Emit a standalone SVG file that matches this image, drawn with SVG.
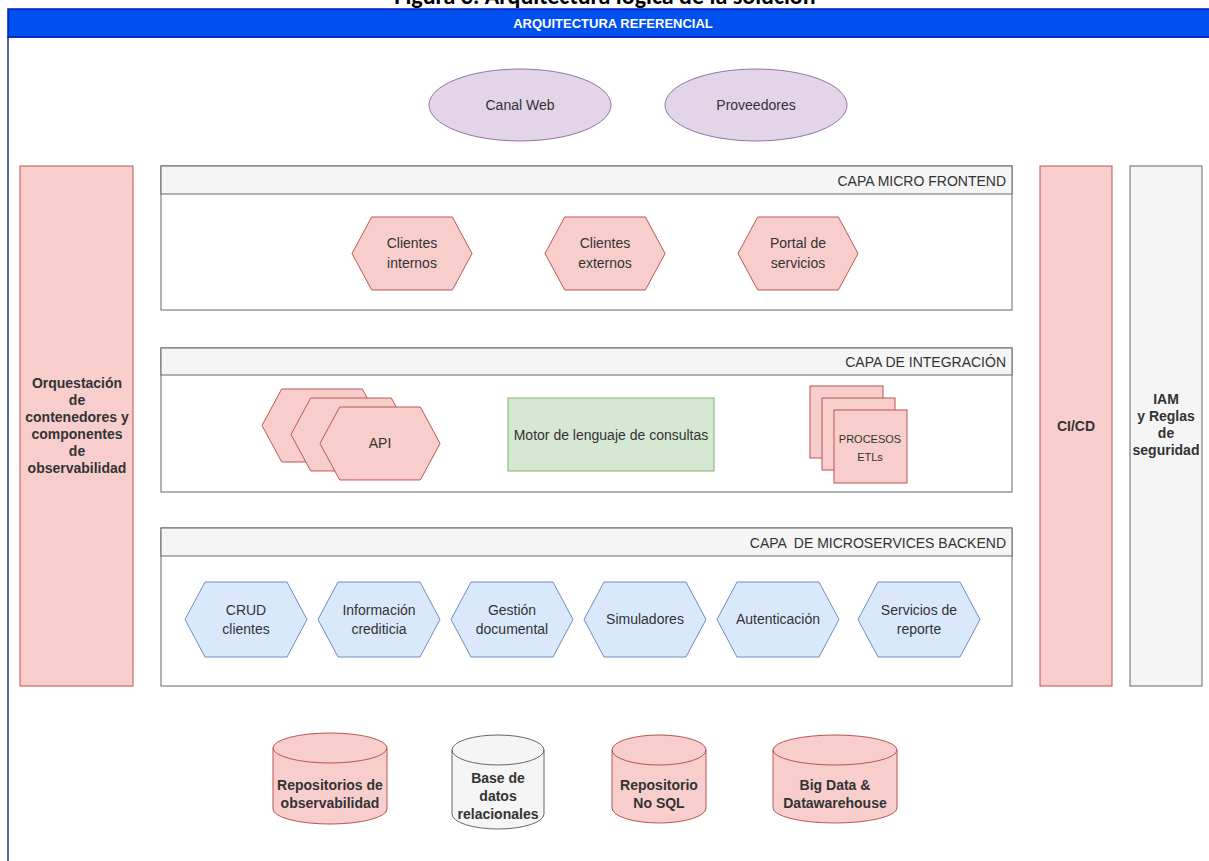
<svg xmlns="http://www.w3.org/2000/svg" width="1209" height="861" viewBox="0 0 1209 861">
  <style>
    text { font-family: "Liberation Sans", Arial, sans-serif; fill: #333; text-anchor: middle; }
    .t12 { font-size: 14px; }
    .b13 { font-size: 14px; font-weight: bold; }
    .layerTitle { font-size: 14px; text-anchor: end; }
    .pink { fill: #f8cecc; stroke: #b85450; stroke-width: 1; }
    .blue { fill: #dae8fc; stroke: #6c8ebf; stroke-width: 1; }
    .grey { fill: #f5f5f5; stroke: #666; stroke-width: 1; }
    .purple { fill: #e1d5e7; stroke: #9673a6; stroke-width: 1; }
    .green { fill: #d5e8d4; stroke: #82b366; stroke-width: 1; }
    .body { fill: #fff; stroke: #666; stroke-width: 1; }
  </style>
  <defs>
    <!-- hexagon 122 x 75 -->
    <polygon id="hex" points="0,37.5 20,0 102,0 122,37.5 102,75 20,75"/>
  </defs>
  <rect width="1209" height="861" fill="#fff"/>

  <!-- caption above the frame -->
  <text x="605" y="4" style="font-family:'Carlito','Liberation Sans',sans-serif;font-size:24px;font-weight:bold;fill:#000">Figura 3. Arquitectura lógica de la solución</text>

  <!-- outer frame -->
  <g id="frame">
    <rect x="8" y="37" width="1220" height="840" fill="#fff" stroke="#1a2f8a" stroke-width="1.5"/>
    <rect x="8" y="9" width="1220" height="28" fill="#0050ef" stroke="#001dbc" stroke-width="1.5"/>
    <text x="613" y="28" style="font-size:13px;font-weight:bold;fill:#fff">ARQUITECTURA REFERENCIAL</text>
  </g>

  <!-- channels -->
  <g id="canal-web">
    <ellipse class="purple" cx="520" cy="105" rx="91" ry="36"/>
    <text class="t12" x="520" y="110">Canal Web</text>
  </g>
  <g id="proveedores">
    <ellipse class="purple" cx="756" cy="105" rx="91" ry="36"/>
    <text class="t12" x="756" y="110">Proveedores</text>
  </g>

  <!-- side bars -->
  <g id="orquestacion">
    <rect class="pink" x="20" y="166" width="113" height="520"/>
    <text class="b13" x="77" y="388">Orquestación</text>
    <text class="b13" x="77" y="405">de</text>
    <text class="b13" x="77" y="422">contenedores y</text>
    <text class="b13" x="77" y="439">componentes</text>
    <text class="b13" x="77" y="456">de</text>
    <text class="b13" x="77" y="473">observabilidad</text>
  </g>
  <g id="cicd">
    <rect class="pink" x="1040" y="166" width="72" height="520"/>
    <text class="b13" x="1076" y="431">CI/CD</text>
  </g>
  <g id="iam">
    <rect class="grey" x="1130" y="166" width="72" height="520"/>
    <text class="b13" x="1166" y="404">IAM</text>
    <text class="b13" x="1166" y="421">y Reglas</text>
    <text class="b13" x="1166" y="438">de</text>
    <text class="b13" x="1166" y="455">seguridad</text>
  </g>

  <!-- micro frontend layer -->
  <g id="capa-frontend">
    <rect class="body" x="161" y="166" width="851" height="144"/>
    <rect class="grey" x="161" y="166" width="851" height="28"/>
    <text class="layerTitle" x="1006" y="186">CAPA MICRO FRONTEND</text>
  </g>
  <g id="clientes-internos">
    <use href="#hex" class="pink" transform="translate(352,217) scale(0.984,0.973)"/>
    <text class="t12" x="412" y="248">Clientes</text>
    <text class="t12" x="412" y="268">internos</text>
  </g>
  <g id="clientes-externos">
    <use href="#hex" class="pink" transform="translate(545,217) scale(0.984,0.973)"/>
    <text class="t12" x="605" y="248">Clientes</text>
    <text class="t12" x="605" y="268">externos</text>
  </g>
  <g id="portal-servicios">
    <use href="#hex" class="pink" transform="translate(738,217) scale(0.984,0.973)"/>
    <text class="t12" x="798" y="248">Portal de</text>
    <text class="t12" x="798" y="268">servicios</text>
  </g>

  <!-- integration layer -->
  <g id="capa-integracion">
    <rect class="body" x="161" y="348" width="851" height="144"/>
    <rect class="grey" x="161" y="348" width="851" height="27"/>
    <text class="layerTitle" x="1006" y="367">CAPA DE INTEGRACIÓN</text>
  </g>
  <g id="api">
    <use href="#hex" class="pink" transform="translate(262,389) scale(0.984,0.973)"/>
    <use href="#hex" class="pink" transform="translate(291,398) scale(0.984,0.973)"/>
    <use href="#hex" class="pink" transform="translate(320,407) scale(0.984,0.973)"/>
    <text class="t12" x="380" y="448">API</text>
  </g>
  <g id="motor-consultas">
    <rect class="green" x="508" y="398" width="206" height="73"/>
    <text class="t12" x="611" y="440">Motor de lenguaje de consultas</text>
  </g>
  <g id="procesos-etl">
    <rect class="pink" x="810" y="386" width="73" height="72"/>
    <rect class="pink" x="822" y="398" width="73" height="72"/>
    <rect class="pink" x="834" y="410" width="73" height="73"/>
    <text x="870" y="443" style="font-size:11px">PROCESOS</text>
    <text x="870" y="461" style="font-size:11px">ETLs</text>
  </g>

  <!-- backend layer -->
  <g id="capa-backend">
    <rect class="body" x="161" y="528" width="851" height="158"/>
    <rect class="grey" x="161" y="528" width="851" height="28"/>
    <text class="layerTitle" x="1006" y="548" xml:space="preserve">CAPA  DE MICROSERVICES BACKEND</text>
  </g>
  <g id="crud-clientes">
    <use href="#hex" class="blue" transform="translate(185,582)"/>
    <text class="t12" x="246" y="615">CRUD</text>
    <text class="t12" x="246" y="634">clientes</text>
  </g>
  <g id="informacion-crediticia">
    <use href="#hex" class="blue" transform="translate(318,582)"/>
    <text class="t12" x="379" y="615">Información</text>
    <text class="t12" x="379" y="634">crediticia</text>
  </g>
  <g id="gestion-documental">
    <use href="#hex" class="blue" transform="translate(451,582)"/>
    <text class="t12" x="512" y="615">Gestión</text>
    <text class="t12" x="512" y="634">documental</text>
  </g>
  <g id="simuladores">
    <use href="#hex" class="blue" transform="translate(584,582)"/>
    <text class="t12" x="645" y="624">Simuladores</text>
  </g>
  <g id="autenticacion">
    <use href="#hex" class="blue" transform="translate(717,582)"/>
    <text class="t12" x="778" y="624">Autenticación</text>
  </g>
  <g id="servicios-reporte">
    <use href="#hex" class="blue" transform="translate(858,582)"/>
    <text class="t12" x="919" y="615">Servicios de</text>
    <text class="t12" x="919" y="634">reporte</text>
  </g>

  <!-- data stores -->
  <g id="repo-observabilidad">
    <path class="pink" d="M273,748 A57,15 0 0 1 387,748 L387,809 A57,15 0 0 1 273,809 Z"/>
    <path d="M273,748 A57,15 0 0 0 387,748" fill="none" stroke="#b85450"/>
    <text class="b13" x="330" y="790">Repositorios de</text>
    <text class="b13" x="330" y="808">observabilidad</text>
  </g>
  <g id="base-relacional">
    <path class="grey" d="M452,750 A46,15 0 0 1 544,750 L544,814 A46,15 0 0 1 452,814 Z"/>
    <path d="M452,750 A46,15 0 0 0 544,750" fill="none" stroke="#666"/>
    <text class="b13" x="498" y="783">Base de</text>
    <text class="b13" x="498" y="801">datos</text>
    <text class="b13" x="498" y="819">relacionales</text>
  </g>
  <g id="repo-nosql">
    <path class="pink" d="M612,750 A47,15 0 0 1 706,750 L706,808 A47,15 0 0 1 612,808 Z"/>
    <path d="M612,750 A47,15 0 0 0 706,750" fill="none" stroke="#b85450"/>
    <text class="b13" x="659" y="790">Repositorio</text>
    <text class="b13" x="659" y="808">No SQL</text>
  </g>
  <g id="big-data">
    <path class="pink" d="M773,750 A62,15 0 0 1 897,750 L897,808 A62,15 0 0 1 773,808 Z"/>
    <path d="M773,750 A62,15 0 0 0 897,750" fill="none" stroke="#b85450"/>
    <text class="b13" x="835" y="790">Big Data &amp;</text>
    <text class="b13" x="835" y="808">Datawarehouse</text>
  </g>

  <!-- no connectors are drawn between the blocks -->
  <g id="connectors"/>
</svg>
